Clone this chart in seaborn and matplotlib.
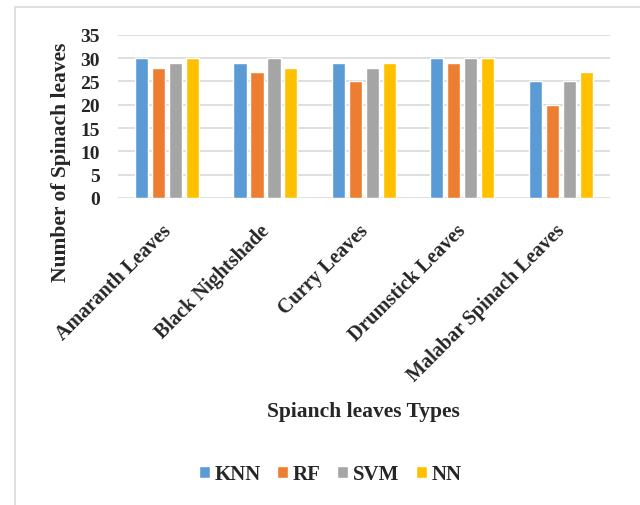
"""Grouped bar chart: spinach leaf counts per classifier."""

import matplotlib.pyplot as plt
import matplotlib.transforms as mtransforms
import pandas as pd
import seaborn as sns
from matplotlib.patches import Rectangle

CATEGORIES = [
    "Amaranth Leaves",
    "Black Nightshade",
    "Curry Leaves",
    "Drumstick Leaves",
    "Malabar Spinach Leaves",
]
MODELS = ["KNN", "RF", "SVM", "NN"]
KNN = [30, 29, 29, 30, 25]
RF = [28, 27, 25, 29, 20]
SVM = [29, 30, 28, 30, 25]
NN = [30, 28, 29, 30, 27]
COLORS = ["#5B9BD5", "#ED7D31", "#A5A5A5", "#FFC000"]
Y_TICKS = [0, 5, 10, 15, 20, 25, 30, 35]

sns.set_theme(style="white")
plt.rcParams["font.family"] = ["Liberation Serif", "DejaVu Serif"]
plt.rcParams["font.weight"] = "bold"

rows = []
for model, values in zip(MODELS, [KNN, RF, SVM, NN]):
    for cat, v in zip(CATEGORIES, values):
        rows.append({"category": cat, "model": model, "count": v})
df = pd.DataFrame(rows)

fig = plt.figure(figsize=(6.4, 5.06), dpi=100)
ax = fig.add_axes([0.184, 0.607, 0.769, 0.322])

sns.barplot(
    data=df, x="category", y="count", hue="model", palette=COLORS,
    width=0.69, gap=0.22, ax=ax, zorder=3, saturation=1,
)

ax.set_ylim(0, 35)
ax.set_yticks(Y_TICKS)
ax.grid(axis="y", color="#D9D9D9", linewidth=1.2, zorder=0)
for spine in ax.spines.values():
    spine.set_visible(False)
ax.tick_params(axis="both", length=0)
ax.tick_params(axis="y", pad=13, labelsize=14)
ax.tick_params(axis="x", pad=16, labelsize=14.5)
shift = mtransforms.ScaledTranslation(-6 / 100, 0, fig.dpi_scale_trans)
for lbl in ax.get_xticklabels():
    lbl.set_rotation(45)
    lbl.set_ha("right")
    lbl.set_va("top")
    lbl.set_rotation_mode("anchor")
    lbl.set_fontweight("bold")
    lbl.set_transform(lbl.get_transform() + shift)
for lbl in ax.get_yticklabels():
    lbl.set_fontweight("bold")

ax.set_ylabel("Number of Spinach leaves", fontsize=15.5, fontweight="bold")
ax.yaxis.set_label_coords(-0.115, 0.227)
ax.yaxis.label.set_va("center")
ax.set_xlabel("Spianch leaves Types", fontsize=15.5, fontweight="bold")
ax.xaxis.set_label_coords(0.5, -1.307)
ax.xaxis.label.set_va("center")

handles, labels = ax.get_legend_handles_labels()
ax.legend(
    handles, labels, ncol=4, frameon=False, loc="center",
    bbox_to_anchor=(0.516, 0.0613), bbox_transform=fig.transFigure,
    handlelength=0.53, handleheight=0.5, handletextpad=0.22, columnspacing=0.8,
    prop={"size": 15, "weight": "bold"},
)

fig.patches.append(Rectangle(
    (15 / 640, -0.05), 1.1, 1 - 8 / 506 + 0.05, transform=fig.transFigure,
    fill=False, edgecolor="#D9D9D9", linewidth=1.2, figure=fig,
))

fig.savefig("out.png", dpi=100)
